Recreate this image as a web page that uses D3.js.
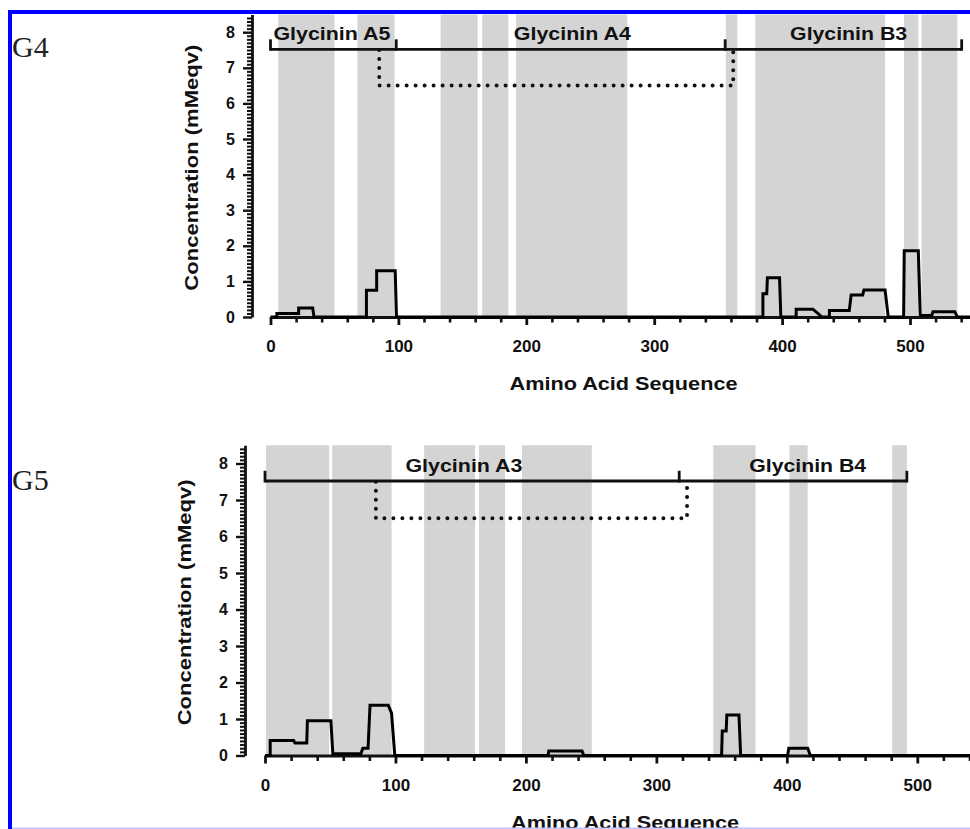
<!DOCTYPE html>
<html><head><meta charset="utf-8">
<script src="https://cdn.jsdelivr.net/npm/d3@7"></script>
<style>
html,body{margin:0;padding:0;background:#fff;}
svg{display:block;}
text.sans{font-family:"Liberation Sans",Arial,Helvetica,sans-serif;font-weight:bold;fill:#111;}
text.serif{font-family:"Liberation Serif","Times New Roman",serif;fill:#222;}
</style></head><body>
<svg id="c" width="970" height="829"></svg>
<script>
// ---------------- DATA ----------------
const panelNames = ["G4", "G5"];
const xTicks = [0, 100, 200, 300, 400, 500];
const yTicks = [0, 1, 2, 3, 4, 5, 6, 7, 8];
const yMax = 8.5;
const xMax = 560;

// G4 concentration profile [amino acid position, mMeqv]
const g4Profile = [[0,0],[5,0],[5,0.1],[22,0.1],[22,0.25],[33,0.25],[34,0],[75,0],[75,0.75],[83,0.75],[83,1.3],[97.5,1.3],[98.5,0],
  [385,0],[385,0.65],[388,0.65],[388.5,1.1],[398,1.1],[399,0],[411,0],[411,0.22],[424,0.22],[428,0.1],[431,0],
  [437,0],[437,0.18],[452.5,0.18],[454,0.62],[463,0.62],[464,0.76],[480.5,0.76],[483,0],[495,0],[495.5,1.86],[506.5,1.86],[508,0.04],
  [517,0.04],[518,0.15],[535,0.15],[537,0],[560,0]];
// G5 concentration profile
const g5Profile = [[0,0],[4,0],[4,0.41],[22,0.41],[23,0.34],[32,0.34],[32.5,0.95],[50.5,0.95],[52,0.05],[73.5,0.05],[75,0.2],[79,0.2],[80.5,1.38],
  [94.5,1.38],[97,1.16],[99.5,0],[217,0],[217.5,0.12],[243,0.12],[244.5,0],[350,0],[350.5,0.67],[353.5,0.67],[354,1.11],[363.3,1.11],[364.6,0],
  [400.6,0],[401.5,0.2],[416,0.2],[418,0],[560,0]];

// shaded sequence regions [start, end]
const g4Bands = [[6,50],[68,97],[133,162],[165.5,186],[192,279],[356,365],[379,480.5],[495.3,506.5],[509,537]];
const g5Bands = [[0.8,49.2],[51.5,97],[122,161],[164,184],[197,250.5],[343.6,376],[402,416],[480.8,492]];

// subunit brackets
const g4BracketTicks = [0, 98.3, 355.5, 540.4];
const g5BracketTicks = [0, 317.5, 492];
const bracketLevel = 7.52;
const g4Labels = ["Glycinin A5", "Glycinin A4", "Glycinin B3"];
const g4LabelPos = [48, 236, 452];
const g5Labels = ["Glycinin A3", "Glycinin B4"];
const g5LabelPos = [152.5, 416];

// dotted disulfide link
const g4Link = [[85,7.5],[85,6.5],[361.8,6.5],[361.8,7.5]];
const g5Link = [[85,7.5],[85,6.5],[323.5,6.5],[323.5,7.5]];

const yTitle = "Concentration (mMeqv)";
const xTitle = "Amino Acid Sequence";

// ---------------- LAYOUT ----------------
const panels = [
  {name: panelNames[0], profile: g4Profile, bands: g4Bands, bt: g4BracketTicks, labels: g4Labels, labelPos: g4LabelPos, link: g4Link,
   x0: 270.5, x500: 910, yAxisX: 252, y0: 317, y8: 32.2, nameY: 57},
  {name: panelNames[1], profile: g5Profile, bands: g5Bands, bt: g5BracketTicks, labels: g5Labels, labelPos: g5LabelPos, link: g5Link,
   x0: 265, x500: 917.3, yAxisX: 245, y0: 755.5, y8: 463.5, nameY: 490}
];

const svg = d3.select("#c");
svg.append("rect").attr("width",970).attr("height",829).attr("fill","#fff");

panels.forEach(p => {
  const x = d3.scaleLinear().domain([0, 500]).range([p.x0, p.x500]);
  const y = d3.scaleLinear().domain([0, 8]).range([p.y0, p.y8]);
  const g = svg.append("g");

  // bands
  g.selectAll("rect.band").data(p.bands).join("rect")
    .attr("x", d => x(d[0])).attr("width", d => x(d[1]) - x(d[0]))
    .attr("y", y(yMax)).attr("height", y(0) - y(yMax))
    .attr("fill", "#d4d4d4");

  // y axis minor
  const yMinor = d3.range(0, 85).map(i => i / 10).filter(v => Math.abs(v - Math.round(v)) > 1e-6);
  g.append("g").attr("transform", `translate(${p.yAxisX},0)`)
    .call(d3.axisLeft(y).tickValues(yMinor).tickSize(5).tickFormat(""))
    .call(a => a.select(".domain").remove())
    .call(a => a.selectAll("line").attr("stroke","#111").attr("stroke-width",2));
  // y axis major
  const ya = g.append("g").attr("transform", `translate(${p.yAxisX},0)`)
    .call(d3.axisLeft(d3.scaleLinear().domain([0, yMax]).range([y(0), y(yMax)])).tickValues(yTicks).tickSize(9).tickSizeOuter(0).tickPadding(8));
  ya.select(".domain").attr("stroke","#111").attr("stroke-width",2.8);
  ya.selectAll("line").attr("stroke","#111").attr("stroke-width",2.4);
  ya.selectAll("text").attr("class","sans").attr("font-size",16).attr("fill","#111");

  // x axis
  const xs = d3.scaleLinear().domain([0, xMax]).range([x(0), x(xMax)]);
  const xMinor = d3.range(20, xMax + 1, 20).filter(v => v % 100 !== 0);
  g.append("g").attr("transform", `translate(0,${p.y0})`)
    .call(d3.axisBottom(xs).tickValues(xMinor).tickSize(5.5).tickFormat("").tickSizeOuter(0))
    .call(a => a.select(".domain").remove())
    .call(a => a.selectAll("line").attr("stroke","#111").attr("stroke-width",2.6));
  const xa = g.append("g").attr("transform", `translate(0,${p.y0})`)
    .call(d3.axisBottom(xs).tickValues(xTicks).tickSize(8).tickSizeOuter(0).tickPadding(15));
  xa.select(".domain").attr("stroke","#111").attr("stroke-width",2.8);
  xa.selectAll("line").attr("stroke","#111").attr("stroke-width",2.8);
  xa.selectAll("text").attr("class","sans").attr("font-size",17).attr("fill","#111");

  // profile line
  const line = d3.line().x(d => x(d[0])).y(d => y(d[1]));
  g.append("path").datum(p.profile).attr("d", line)
    .attr("fill","none").attr("stroke","#000").attr("stroke-width",3).attr("stroke-linejoin","miter");

  // bracket
  const bt = p.bt;
  g.append("line").attr("x1", x(bt[0])).attr("x2", x(bt[bt.length-1]))
    .attr("y1", y(bracketLevel)).attr("y2", y(bracketLevel))
    .attr("stroke","#111").attr("stroke-width",2.8);
  g.selectAll("line.bt").data(bt).join("line").attr("class","bt")
    .attr("x1", d => x(d)).attr("x2", d => x(d))
    .attr("y1", y(bracketLevel) + 1.4).attr("y2", y(bracketLevel + 0.28))
    .attr("stroke","#111").attr("stroke-width",2.8);

  // dotted link
  g.append("path").datum(p.link).attr("d", d3.line().x(d => x(d[0])).y(d => y(d[1])))
    .attr("fill","none").attr("stroke","#111").attr("stroke-width",4)
    .attr("stroke-linecap","round").attr("stroke-dasharray","0,9");

  // subunit labels
  g.selectAll("text.lab").data(p.labels).join("text").attr("class","sans lab")
    .attr("x", (d,i) => x(p.labelPos[i])).attr("y", y(7.78))
    .attr("text-anchor","middle").attr("font-size",19)
    .attr("textLength",117).attr("lengthAdjust","spacingAndGlyphs")
    .text(d => d);

  // axis titles
  const cy = (y(0) + y(yMax)) / 2 + 2;
  g.append("text").attr("class","sans")
    .attr("transform", `translate(${p.yAxisX - 54},${cy}) rotate(-90)`)
    .attr("text-anchor","middle").attr("font-size",19)
    .attr("textLength",246).attr("lengthAdjust","spacingAndGlyphs")
    .text(yTitle);
  g.append("text").attr("class","sans")
    .attr("x", x(276)).attr("y", p.y0 + 73)
    .attr("text-anchor","middle").attr("font-size",18)
    .attr("textLength",228).attr("lengthAdjust","spacingAndGlyphs")
    .text(xTitle);

  // panel name
  g.append("text").attr("class","serif").attr("x",12).attr("y",p.nameY)
    .attr("font-size",30).text(p.name);
});

// frame
svg.append("rect").attr("x",8).attr("y",10).attr("width",962).attr("height",4).attr("fill","#0000ff");
svg.append("rect").attr("x",8).attr("y",10).attr("width",4).attr("height",819).attr("fill","#0000ff");
svg.append("rect").attr("x",12).attr("y",827.5).attr("width",958).attr("height",1.5).attr("fill","#c4c4ff");
</script>
</body></html>
